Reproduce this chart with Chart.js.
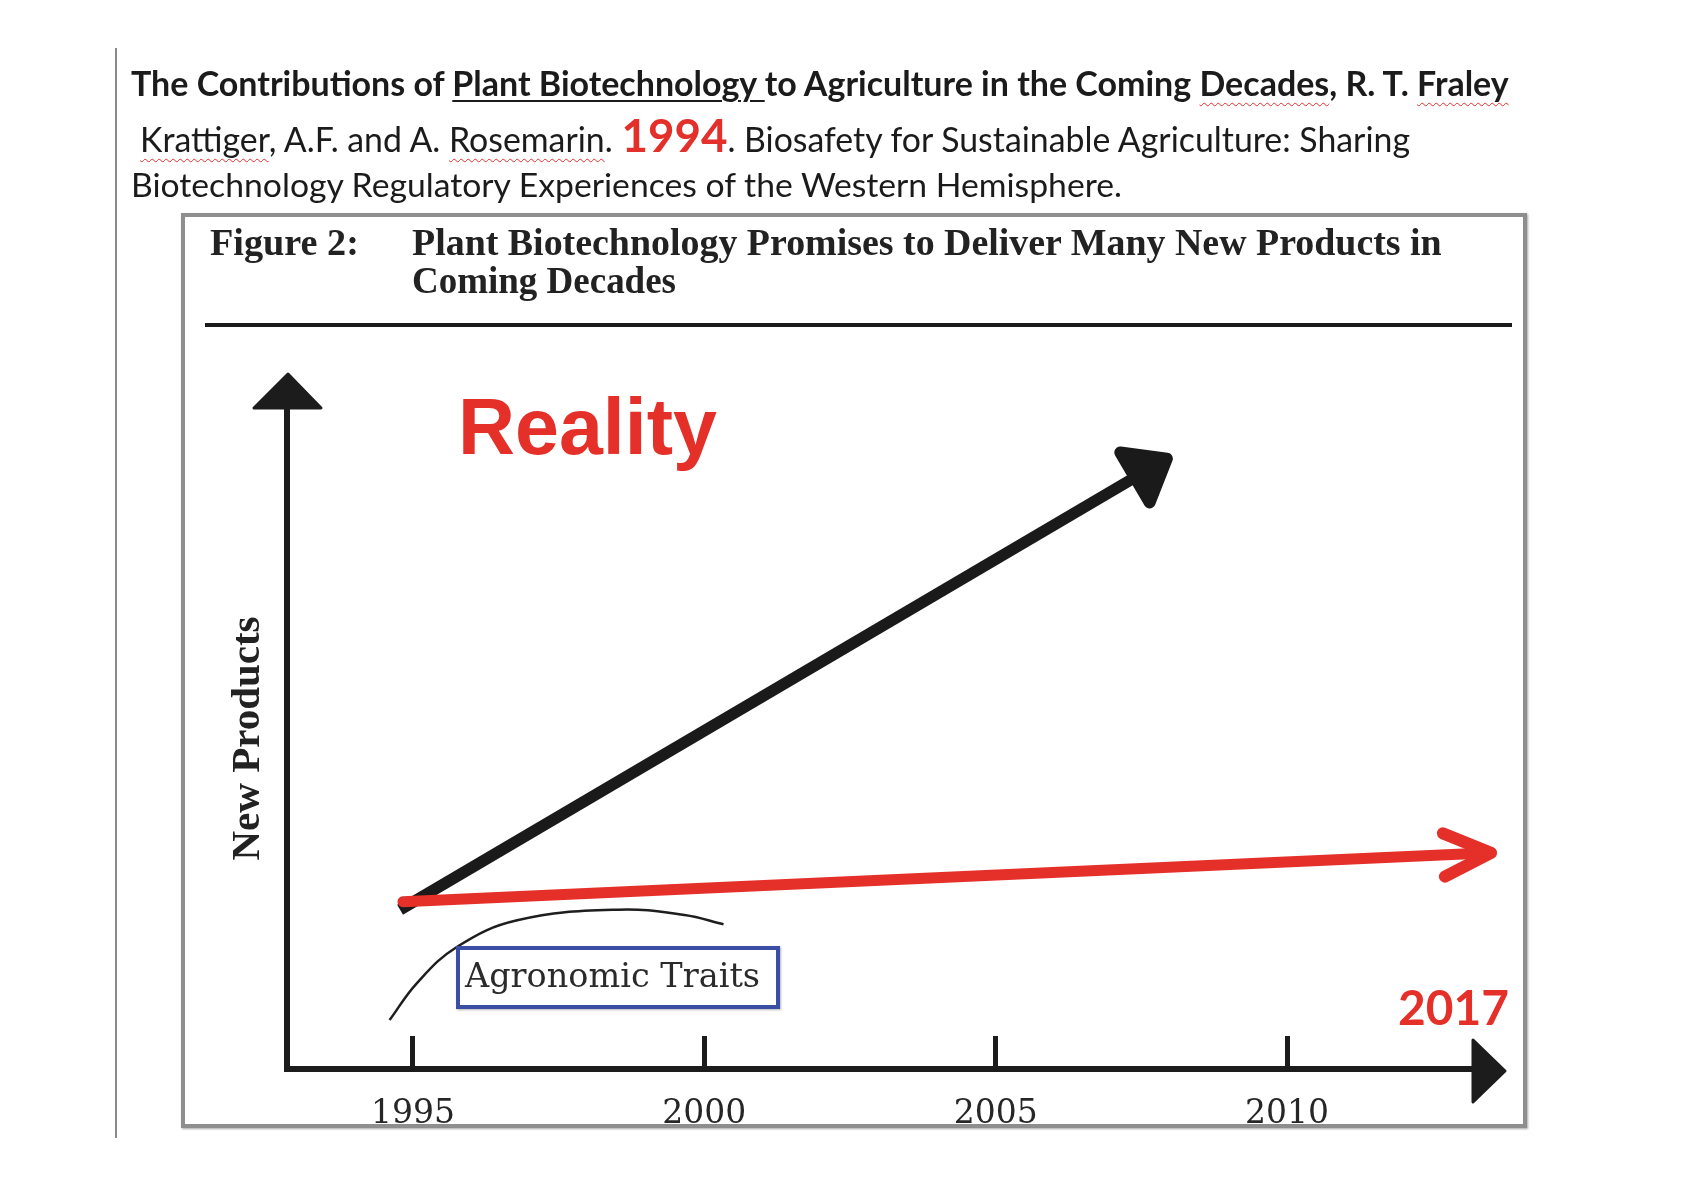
<!DOCTYPE html>
<html>
<head>
<meta charset="utf-8">
<title>Plant Biotechnology Promises to Deliver Many New Products</title>
<script src="https://cdn.jsdelivr.net/npm/chart.js@4.4.1/dist/chart.umd.min.js"></script>
<style>
  html, body { margin: 0; padding: 0; background: #fff; }
  #page { position: relative; width: 1684px; height: 1191px; overflow: hidden; background: #fff; }
  #chart { position: absolute; left: 0; top: 0; z-index: 1; }
  .t { position: absolute; white-space: nowrap; line-height: 1; z-index: 3; color: #1b1b1b; }
  .bl { display: inline-block; width: 0; height: 0; }
  .hd { font-family: Lato, "Open Sans", sans-serif; font-size: 35px; }
  .ul { text-decoration: underline; text-decoration-thickness: 2px; text-underline-offset: 4px; }
  .wv { text-decoration: underline wavy #e0302c; text-decoration-thickness: 1px; text-underline-offset: 6px; }
  .yr { color: #e3302b; font-weight: 700; font-size: 1.35em; }
  .fig { font-family: "Liberation Serif", "Times New Roman", serif; font-weight: 700; font-size: 35px; color: #222; }
  #leftline { position: absolute; left: 115px; top: 48px; width: 2px; height: 1090px; background: #8a8a8a; }
  #box { position: absolute; left: 181px; top: 213px; width: 1346px; height: 915px; box-sizing: border-box;
         border: 4px solid #8e8e8e; box-shadow: 1px 1px 2px rgba(0,0,0,0.35); z-index: 0; }
  #rule { position: absolute; left: 205px; top: 323px; width: 1307px; height: 4px; background: #1b1b1b; z-index: 2; }
  #reality { font-family: "Liberation Sans", Arial, sans-serif; font-weight: 700; font-size: 80px; color: #e5302a; }
  #y2017 { font-family: Lato, "Open Sans", sans-serif; font-weight: 700; font-size: 50px; color: #e5302a; }
  #traitbox { position: absolute; left: 456px; top: 946px; width: 324px; height: 63px; box-sizing: border-box;
              border: 4px solid #3a4ea6; background: #fff; box-shadow: 1px 1px 2px rgba(0,0,0,0.3); z-index: 2; }
  #traits { font-family: "DejaVu Serif", "Liberation Serif", serif; font-size: 32px; color: #2a2a2a; }
</style>
</head>
<body>
<div id="page">
  <div id="leftline"></div>

  <div class="t hd" id="h1" style="font-weight:700">The Contributions of <span class="ul">Plant Biotechnology </span>to Agriculture in the Coming <span class="wv">Decades</span>, R. T. <span class="wv">Fraley</span></div>
  <div class="t hd" id="h2"><span class="wv">Krattiger</span>, A.F. and A. <span class="wv">Rosemarin</span>. <span class="yr">1994</span>. Biosafety for Sustainable Agriculture: Sharing</div>
  <div class="t hd" id="h3">Biotechnology Regulatory Experiences of the Western Hemisphere.</div>

  <div id="box"></div>
  <div class="t fig" id="f1">Figure 2:</div>
  <div class="t fig" id="f2">Plant Biotechnology Promises to Deliver Many New Products in</div>
  <div class="t fig" id="f3">Coming Decades</div>
  <div id="rule"></div>

  <canvas id="chart" width="1684" height="1191"></canvas>

  <div class="t" id="reality">Reality</div>
  <div class="t" id="y2017">2017</div>
  <div id="traitbox"></div>
  <div class="t" id="traits">Agronomic Traits</div>
</div>

<script>
'use strict';

// years shown on the time axis
const tickYears = [1995, 2000, 2005, 2010];
const xMin = 1992.84;
const xMax = 2013.19;

// "promise" arrow (black) and "reality" arrow (red), new products on a 0-100 scale
const promiseYears = [1994.78, 2007.39];
const promiseProducts = [24.1, 89.5];
const realityYears = [1994.83, 2013.5];
const realityProducts = [25.3, 32.7];

// arc drawn above the Agronomic Traits box
const traitYears = [1994.6, 1995.07, 1995.76, 1996.79, 1998.52, 1999.66, 2000.33];
const traitProducts = [7.4, 13.0, 18.5, 22.5, 24.1, 23.3, 21.9];

const axisColor = '#1c1c1c';
const red = '#e5302a';

function toPoints(xs, ys) {
  return xs.map((x, i) => ({ x: x, y: ys[i] }));
}

// arrowheads on the axes and on the two trend lines
const arrowPlugin = {
  id: 'arrows',
  afterDraw(chart) {
    const { ctx, chartArea: a } = chart;
    ctx.save();
    ctx.fillStyle = axisColor;
    ctx.strokeStyle = axisColor;
    ctx.lineJoin = 'round';
    ctx.lineWidth = 3;
    // y axis
    ctx.beginPath();
    ctx.moveTo(a.left - 33, a.top);
    ctx.lineTo(a.left + 1, a.top - 34);
    ctx.lineTo(a.left + 34, a.top);
    ctx.closePath();
    ctx.fill();
    ctx.stroke();
    // x axis
    ctx.beginPath();
    ctx.moveTo(a.right, a.bottom - 29);
    ctx.lineTo(a.right + 32, a.bottom + 2);
    ctx.lineTo(a.right, a.bottom + 33);
    ctx.closePath();
    ctx.fill();
    ctx.stroke();

    chart.data.datasets.forEach((ds, i) => {
      if (!ds.arrow) return;
      const pts = chart.getDatasetMeta(i).data;
      const p0 = pts[pts.length - 2];
      const p1 = pts[pts.length - 1];
      const ang = Math.atan2(p1.y - p0.y, p1.x - p0.x);
      const cos = Math.cos(ang), sin = Math.sin(ang);
      if (ds.arrow === 'filled') {
        const len = 37, half = 29;
        ctx.fillStyle = ds.borderColor;
        ctx.strokeStyle = ds.borderColor;
        ctx.beginPath();
        ctx.moveTo(p1.x - sin * half, p1.y + cos * half);
        ctx.lineTo(p1.x + cos * len, p1.y + sin * len);
        ctx.lineTo(p1.x + sin * half, p1.y - cos * half);
        ctx.closePath();
        ctx.fill();
        ctx.stroke();
      } else {
        const len = 52, spread = 0.43;
        ctx.strokeStyle = ds.borderColor;
        ctx.lineWidth = 12;
        ctx.lineCap = 'round';
        ctx.beginPath();
        ctx.moveTo(p1.x - Math.cos(ang - spread) * len, p1.y - Math.sin(ang - spread) * len);
        ctx.lineTo(p1.x, p1.y);
        ctx.lineTo(p1.x - Math.cos(ang + spread) * len, p1.y - Math.sin(ang + spread) * len);
        ctx.stroke();
      }
    });
    ctx.restore();
  }
};

new Chart(document.getElementById('chart'), {
  type: 'line',
  data: {
    datasets: [
      {
        label: 'Reality',
        data: toPoints(realityYears, realityProducts),
        borderColor: red,
        borderWidth: 11,
        borderCapStyle: 'round',
        pointRadius: 0,
        arrow: 'open',
        order: 0,
      },
      {
        label: 'Promise',
        data: toPoints(promiseYears, promiseProducts),
        borderColor: '#1a1a1a',
        borderWidth: 11.5,
        borderCapStyle: 'butt',
        pointRadius: 0,
        arrow: 'filled',
        order: 1,
      },
      {
        label: 'Agronomic Traits',
        data: toPoints(traitYears, traitProducts),
        borderColor: '#1e1e1e',
        borderWidth: 2.5,
        pointRadius: 0,
        tension: 0.4,
        order: 2,
      },
    ],
  },
  options: {
    responsive: false,
    devicePixelRatio: 1,
    animation: false,
    clip: false,
    layout: { padding: { left: 224, right: 211, top: 408, bottom: 60 } },
    plugins: { legend: { display: false }, tooltip: { enabled: false } },
    scales: {
      x: {
        type: 'linear',
        min: xMin,
        max: xMax,
        afterBuildTicks: scale => { scale.ticks = tickYears.map(v => ({ value: v })); },
        afterFit: scale => { scale.height = 62; },
        border: { display: true, color: axisColor, width: 6 },
        grid: { drawOnChartArea: false, drawTicks: true, tickLength: -33, tickWidth: 5, tickColor: axisColor },
        ticks: {
          padding: 59,
          color: '#262626',
          font: { family: '"DejaVu Serif", "Liberation Serif", serif', size: 33 },
          callback: v => String(v),
        },
      },
      y: {
        min: 0,
        max: 100,
        afterFit: scale => { scale.width = 63; },
        border: { display: true, color: axisColor, width: 6 },
        grid: { display: false },
        ticks: { display: false },
        title: {
          display: true,
          text: 'New Products',
          color: '#222',
          font: { family: '"Liberation Serif", "Times New Roman", serif', size: 41, weight: 'bold' },
          padding: { top: 0, bottom: 14 },
        },
      },
    },
  },
  plugins: [arrowPlugin],
});

// place the text blocks on their baselines, scaled to the widths in the scan
function place(id, left, baseline, width) {
  const el = document.getElementById(id);
  const page = document.getElementById('page').getBoundingClientRect();
  el.style.left = left + 'px';
  el.style.top = '0px';
  if (width) {
    const w = el.getBoundingClientRect().width;
    const fs = parseFloat(getComputedStyle(el).fontSize);
    el.style.fontSize = (fs * width / w) + 'px';
  }
  let mark = el.querySelector('.bl');
  if (!mark) {
    mark = document.createElement('span');
    mark.className = 'bl';
    el.appendChild(mark);
  }
  const b = mark.getBoundingClientRect().bottom - page.top;
  el.style.top = (baseline - b) + 'px';
}

function layoutText() {
  place('h1', 131, 96, 1378);
  place('h2', 140, 152, 1270);
  place('h3', 131, 197, 991);
  place('f1', 210, 255, 149);
  place('f2', 412, 255, 1030);
  place('f3', 412, 293, 264);
  place('reality', 458, 454, 259);
  place('y2017', 1398, 1025, 111);
  place('traits', 465, 987, 295);
}

layoutText();
if (document.fonts && document.fonts.ready) document.fonts.ready.then(layoutText);
</script>
</body>
</html>
